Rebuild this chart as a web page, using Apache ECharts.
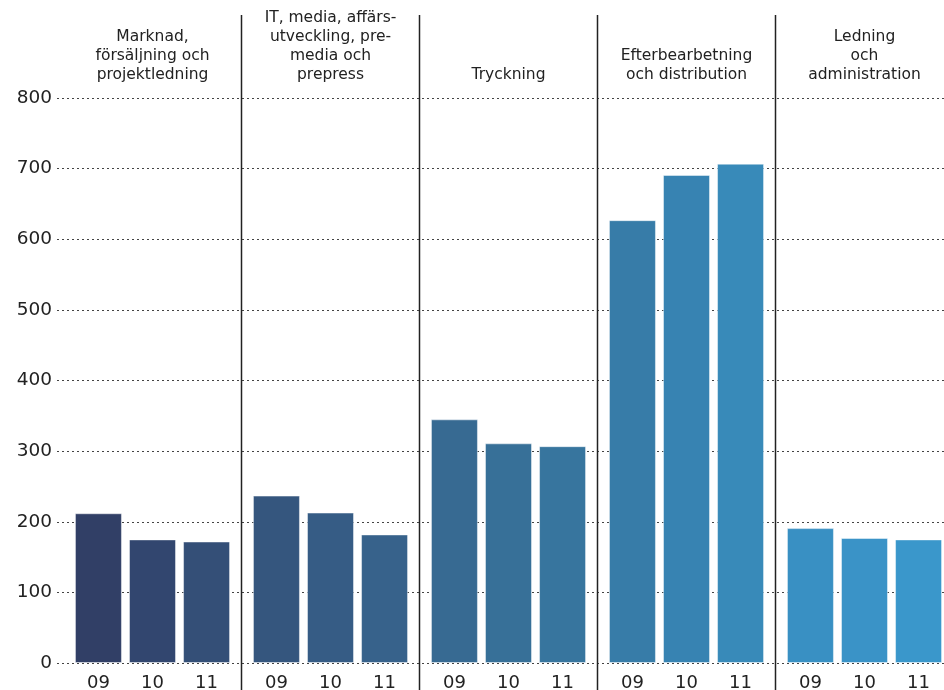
<!DOCTYPE html>
<html>
<head>
<meta charset="utf-8">
<script src="https://cdn.jsdelivr.net/npm/echarts@6/dist/echarts.min.js"></script>
<style>
  html, body { margin: 0; padding: 0; background: #fff; }
  #chart { width: 944px; height: 690px; }
</style>
</head>
<body>
<div id="chart"></div>
<script>
// data
var groups = [
  "Marknad,\nförsäljning och\nprojektledning",
  "IT, media, affärs-\nutveckling, pre-\nmedia och\nprepress",
  "Tryckning",
  "Efterbearbetning\noch distribution",
  "Ledning\noch\nadministration"
];
var years = ["09", "10", "11"];
var y09 = [212, 237, 345, 627, 191];
var y10 = [175, 213, 311, 691, 177];
var y11 = [172, 182, 307, 707, 175];
var yTicks = [0, 100, 200, 300, 400, 500, 600, 700, 800];

// one shade per bar, dark navy -> light blue
var palette = [
  "#313f66", "#32466f", "#344f77",
  "#35567e", "#365c85", "#37628b",
  "#376a92", "#377098", "#37759e",
  "#377ca8", "#3783b2", "#388ab9",
  "#3990c3", "#3a93c7", "#3a97cb"
];

var font = "DejaVu Sans";
var chart = echarts.init(document.getElementById("chart"));

function barSeries(name, values, k) {
  return {
    name: name,
    type: "bar",
    xAxisIndex: 1,
    yAxisIndex: 1,
    barWidth: 47,
    barGap: "15%",
    data: values.map(function (v, g) {
      return { value: v, itemStyle: { color: palette[g * 3 + k] } };
    }),
    itemStyle: { borderColor: "rgba(255,255,255,0.45)", borderWidth: 1 },
    label: {
      show: true,
      position: ["50%", "100%"],
      offset: [0, 11],
      align: "center",
      verticalAlign: "top",
      formatter: "{a}",
      color: "#222",
      fontSize: 18,
      fontFamily: font
    }
  };
}

var option = {
  animation: false,
  grid: [
    { left: 57, right: 0, top: 98, bottom: 27, outerBoundsMode: "none" },
    { left: 63.5, width: 890, top: 98, bottom: 27, outerBoundsMode: "none" }
  ],
  xAxis: [
    { type: "value", gridIndex: 0, show: false, min: 0, max: 1 },
    {
      type: "category",
      gridIndex: 1,
      position: "top",
      data: groups,
      axisLine: { show: false },
      axisTick: { show: false },
      splitLine: { show: false },
      axisLabel: {
        interval: 0,
        margin: 14,
        color: "#222",
        fontSize: 15.5,
        lineHeight: 19,
        fontFamily: font
      }
    }
  ],
  yAxis: [
    {
      type: "value",
      gridIndex: 0,
      min: yTicks[0],
      max: yTicks[yTicks.length - 1],
      interval: 100,
      axisLine: { show: false },
      axisTick: { show: false },
      axisLabel: { margin: 5, color: "#222", fontSize: 18.5, fontFamily: font },
      splitLine: { lineStyle: { color: "#444", type: [2, 3], width: 1 } }
    },
    {
      type: "value",
      gridIndex: 1,
      min: yTicks[0],
      max: yTicks[yTicks.length - 1],
      show: false
    }
  ],
  series: [
    barSeries(years[0], y09, 0),
    barSeries(years[1], y10, 1),
    barSeries(years[2], y11, 2),
    {
      // group separators at category boundaries
      type: "custom",
      xAxisIndex: 1,
      yAxisIndex: 1,
      silent: true,
      data: [[1, 0], [2, 0], [3, 0], [4, 0]],
      renderItem: function (params, api) {
        var x = api.coord([api.value(0), 0])[0] - api.size([1, 0])[0] / 2;
        return {
          type: "line",
          shape: { x1: x, y1: 15, x2: x, y2: 690 },
          style: { stroke: "#222", lineWidth: 1.5 }
        };
      }
    }
  ]
};

chart.setOption(option);
</script>
</body>
</html>
